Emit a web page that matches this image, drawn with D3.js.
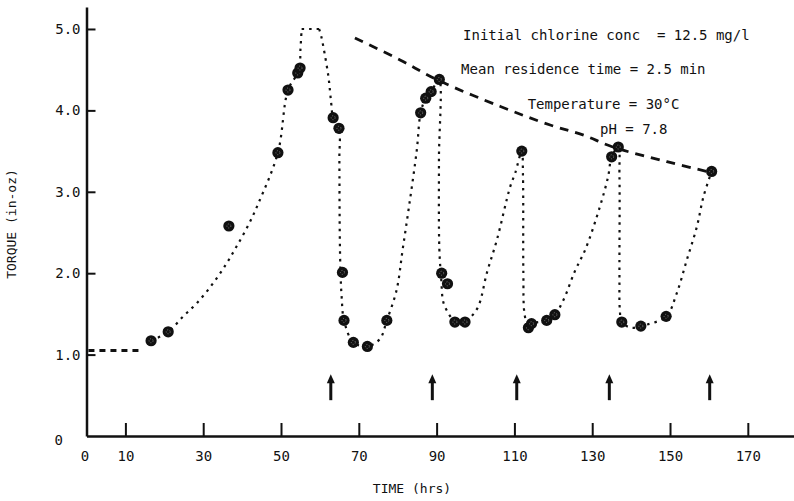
<!DOCTYPE html>
<html>
<head>
<meta charset="utf-8">
<script src="https://cdn.jsdelivr.net/npm/d3@7"></script>
<style>
  html, body { margin: 0; padding: 0; background: #fff; }
  svg { display: block; }
  text { font-family: "DejaVu Sans Mono", "Liberation Mono", monospace; fill: #111; white-space: pre; }
</style>
</head>
<body>
<svg id="chart" width="794" height="501"></svg>
<script>
// ---------------- data ----------------
const xTickValues = [0, 10, 30, 50, 70, 90, 110, 130, 150, 170];
const yTickValues = [0, 1, 2, 3, 4, 5];

// measured data points (time in hrs, torque in in-oz)
const timeHrs = [16.6, 21.0, 36.6, 49.2, 51.8, 54.3, 54.9, 63.4, 64.9, 65.8, 66.2, 68.6, 72.2, 77.2,
                 85.9, 87.2, 88.6, 90.7, 91.3, 92.8, 94.7, 97.3, 111.9, 113.6, 114.4, 118.3, 120.4,
                 135.0, 136.7, 137.6, 142.5, 149.0, 160.7];
const torque  = [1.17, 1.28, 2.58, 3.48, 4.25, 4.46, 4.52, 3.91, 3.78, 2.01, 1.42, 1.15, 1.10, 1.42,
                 3.97, 4.15, 4.23, 4.38, 2.00, 1.87, 1.40, 1.40, 3.50, 1.33, 1.38, 1.42, 1.49,
                 3.43, 3.55, 1.40, 1.35, 1.47, 3.25];

// hand-drawn dotted trend curve (split at the sharp plateau corners)
const riseTime   = [16.6, 21.0, 24.9, 28.7, 32.6, 36.0, 38.6, 41.6, 44.2, 49.2, 51.8, 54.6, 55.0, 55.3];
const riseTorque = [1.17, 1.28, 1.47, 1.65, 1.88, 2.12, 2.33, 2.59, 2.86, 3.48, 4.25, 4.49, 4.75, 5.00];
const plateauTime   = [55.3, 59.8];
const plateauTorque = [5.00, 5.00];
const cycleTime   = [59.8, 60.3, 60.9, 62.2, 62.9, 63.4, 64.9, 65.0, 65.1, 65.3, 65.6, 66.2, 68.6, 72.2, 75.4,
                     77.2, 79.7, 81.3, 83.0, 84.9, 85.9, 87.2, 88.6, 90.6, 90.6, 90.7, 91.2, 91.7, 93.0, 94.7,
                     96.0, 98.5, 100.7, 102.9, 105.5, 108.9, 110.2, 111.9, 112.2, 112.3, 112.6, 113.6, 114.4,
                     118.3, 120.4, 122.6, 125.5, 128.3, 132.0, 134.1, 135.0, 136.7, 137.0, 137.0, 137.1, 137.6,
                     140.0, 142.5, 149.0, 151.7, 154.3, 156.9, 158.6, 160.7];
const cycleTorque = [5.00, 4.92, 4.78, 4.41, 4.09, 3.91, 3.78, 3.40, 2.50, 2.00, 1.70, 1.42, 1.15, 1.10, 1.19,
                     1.42, 1.79, 2.30, 2.85, 3.51, 3.97, 4.15, 4.23, 4.38, 3.40, 2.30, 1.92, 1.65, 1.51, 1.40,
                     1.37, 1.45, 1.59, 2.00, 2.41, 3.06, 3.23, 3.50, 3.20, 2.00, 1.50, 1.33, 1.38,
                     1.42, 1.49, 1.67, 2.02, 2.30, 2.82, 3.19, 3.43, 3.55, 3.20, 2.00, 1.55, 1.40,
                     1.33, 1.35, 1.47, 1.75, 2.16, 2.57, 2.94, 3.25];

// initial baseline (heavy dashes)
const baseTime   = [0.5, 14.3];
const baseTorque = [1.05, 1.05];

// upper dashed envelope through the peaks
const envTime   = [69.0, 80.6, 90.4, 106.3, 119.2, 127.6, 135.3, 149.2, 160.3];
const envTorque = [4.89, 4.62, 4.37, 4.05, 3.82, 3.70, 3.55, 3.37, 3.24];

// arrows (chlorine additions)
const arrowTimes = [62.8, 88.9, 110.6, 134.4, 160.2];
const arrowTop = 0.76, arrowBottom = 0.44;

const notes = [
  "Initial chlorine conc  = 12.5 mg/l",
  "Mean residence time = 2.5 min",
  "Temperature = 30°C",
  "pH = 7.8"
];
const noteTimes  = [96.8, 96.3, 113.4, 132.0];
const noteTorque = [4.91, 4.49, 4.07, 3.76];

// ---------------- drawing ----------------
const svg = d3.select("#chart");
const x = d3.scaleLinear().domain([0, 182]).range([86.5, 794.5]);
const y = d3.scaleLinear().domain([0, 5.27]).range([436, 7]);
const ink = "#111";

// x axis
const xAxis = svg.append("g").attr("transform", `translate(0,${y(0)})`)
  .call(d3.axisBottom(x).tickValues(xTickValues).tickSizeInner(-13).tickSizeOuter(0).tickPadding(15)
        .tickFormat(d3.format("d")));
xAxis.select(".domain").attr("stroke", ink).attr("stroke-width", 2.5);
xAxis.selectAll(".tick line").attr("stroke", ink).attr("stroke-width", 2);
xAxis.selectAll(".tick").filter(d => d === 0).select("line").remove();
xAxis.selectAll(".tick text").attr("font-size", 14).attr("font-family", "DejaVu Sans Mono").attr("fill", ink)
  .attr("dx", d => d === 0 ? -2 : 0);

// y axis
const yAxis = svg.append("g").attr("transform", `translate(${x(0)},0)`)
  .call(d3.axisLeft(y).tickValues(yTickValues).tickSizeInner(-9).tickSizeOuter(0).tickPadding(6)
        .tickFormat(d => d === 0 ? "0" : d.toFixed(1)));
yAxis.select(".domain").attr("stroke", ink).attr("stroke-width", 2.5);
yAxis.selectAll(".tick line").attr("stroke", ink).attr("stroke-width", 2);
yAxis.selectAll(".tick").filter(d => d === 0).select("line").remove();
yAxis.selectAll(".tick text").attr("font-size", 14).attr("font-family", "DejaVu Sans Mono").attr("fill", ink)
  .attr("text-anchor", d => d === 0 ? "start" : "end")
  .attr("x", d => d === 0 ? -32 : -6)
  .attr("dy", d => d === 0 ? "0.62em" : "0.32em");

// axis titles
svg.append("text").attr("x", 412).attr("y", 493).attr("text-anchor", "middle")
  .attr("font-size", 13).text("TIME (hrs)");
svg.append("text").attr("transform", `translate(16,224) rotate(-90)`).attr("text-anchor", "middle")
  .attr("font-size", 13).text("TORQUE (in-oz)");

// lines
const smooth = d3.line().x(d => x(d[0])).y(d => y(d[1])).curve(d3.curveCatmullRom.alpha(0.5));
const straight = d3.line().x(d => x(d[0])).y(d => y(d[1]));
const zip = (a, b) => a.map((t, i) => [t, b[i]]);

svg.append("path").datum(zip(baseTime, baseTorque))
  .attr("d", straight).attr("fill", "none").attr("stroke", ink).attr("stroke-width", 3)
  .attr("stroke-dasharray", "6,5");

const curveParts = [[zip(riseTime, riseTorque), smooth],
                    [zip(plateauTime, plateauTorque), straight],
                    [zip(cycleTime, cycleTorque), smooth]];
curveParts.forEach(([data, gen]) => {
  svg.append("path").datum(data).attr("d", gen)
    .attr("fill", "none").attr("stroke", ink).attr("stroke-width", 2.2)
    .attr("stroke-dasharray", "2.5,5");
});

svg.append("path").datum(zip(envTime, envTorque)).attr("d", smooth)
  .attr("fill", "none").attr("stroke", ink).attr("stroke-width", 2.8)
  .attr("stroke-dasharray", "9,7");

// data points
const pts = svg.append("g");
timeHrs.forEach((t, i) => {
  pts.append("circle").attr("cx", x(t)).attr("cy", y(torque[i])).attr("r", 5.6).attr("fill", ink);
  pts.append("circle").attr("cx", x(t)).attr("cy", y(torque[i])).attr("r", 2)
    .attr("fill", "none").attr("stroke", "#888").attr("stroke-width", 0.8).attr("stroke-dasharray", "1,1.5");
});

// arrows
arrowTimes.forEach(t => {
  const ax = x(t), yt = y(arrowTop), yb = y(arrowBottom);
  svg.append("line").attr("x1", ax).attr("x2", ax).attr("y1", yt + 6).attr("y2", yb)
    .attr("stroke", ink).attr("stroke-width", 3);
  svg.append("path").attr("d", `M${ax},${yt} L${ax - 4},${yt + 9} L${ax + 4},${yt + 9} Z`).attr("fill", ink);
});

// annotations
notes.forEach((s, i) => {
  svg.append("text").attr("x", x(noteTimes[i])).attr("y", y(noteTorque[i]))
    .attr("font-size", 14).attr("dominant-baseline", "middle").text(s);
});
</script>
</body>
</html>
